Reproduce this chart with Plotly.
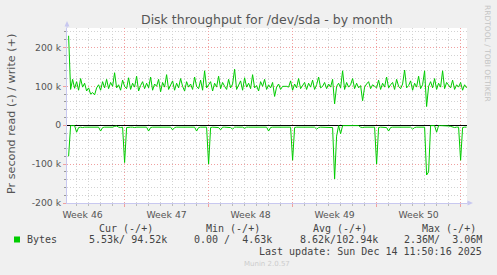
import pandas as pd
import plotly.graph_objects as go

# ---------------- data (kB/s) ----------------
start_time = "2025-11-12 08:00"
step = "4h"

write_k = [
    230, 92, 118, 95, 112, 90, 120, 98, 108, 88, 96, 80, 84, 78, 96, 104, 90, 112, 96, 118,
    94, 110, 100, 135, 96, 104, 90, 116, 100, 94, 122, 92, 108, 98, 126, 88, 102, 112, 94, 108,
    96, 124, 90, 106, 100, 118, 86, 110, 98, 130, 92, 104, 114, 90, 108, 96, 120, 100, 88, 112,
    98, 106, 92, 124, 100, 94, 116, 90, 140, 96, 104, 112, 88, 108, 98, 126, 94, 110, 100, 92,
    118, 96, 106, 144, 92, 102, 114, 90, 122, 98, 108, 94, 130, 96, 102, 88, 112, 100, 118, 92,
    104, 96, 110, 74, 98, 106, 92, 100, 100, 100, 98, 114, 90, 106, 96, 120, 94, 102, 110, 92,
    108, 98, 116, 92, 104, 124, 96, 100, 110, 94, 106, 98, 118, 55, 100, 108, 96, 140, 92, 110,
    98, 104, 120, 94, 108, 96, 102, 63, 98, 106, 112, 94, 104, 100, 96, 116, 92, 108, 98, 124,
    96, 104, 110, 92, 118, 100, 94, 106, 142, 96, 102, 114, 90, 108, 98, 126, 94, 104, 140, 48,
    100, 112, 96, 120, 92, 108, 98, 140, 94, 110, 102, 96, 116, 92, 104, 98, 110, 90, 104, 96,
]

read_k = [
    80, 1, 1, 1, 18, 6, 5, 6, 5, 5, 6, 5, 5, 6, 5, 5, 15, 6, 5, 5,
    6, 5, 5, 3, 2, 5, 6, 5, 96, 6, 5, 5, 5, 6, 5, 5, 5, 6, 5, 5,
    15, 6, 5, 5, 6, 5, 5, 5, 6, 5, 5, 5, 12, 6, 5, 5, 5, 6, 5, 5,
    5, 6, 5, 5, 15, 6, 5, 5, 6, 5, 100, 6, 5, 5, 5, 6, 12, 5, 5, 5,
    5, 6, 10, 5, 5, 5, 6, 5, 8, 5, 5, 5, 6, 5, 5, 5, 6, 5, 5, 5,
    15, 6, 5, 5, 5, 6, 5, 5, 5, 6, 5, 5, 90, 6, 5, 5, 5, 6, 5, 5,
    5, 6, 5, 5, 10, 6, 5, 5, 5, 6, 5, 5, 6, 138, 28, 1, 22, 1, 1, 1,
    1, 1, 1, 1, 1, 1, 5, 6, 5, 5, 5, 6, 5, 5, 100, 6, 5, 5, 5, 6,
    15, 6, 5, 5, 5, 6, 5, 5, 5, 6, 5, 5, 10, 6, 5, 5, 6, 5, 5, 128,
    120, 1, 1, 1, 18, 1, 1, 1, 1, 1, 2, 3, 5, 6, 5, 5, 90, 6, 5, 5,
]

y_tick_vals = [-200000, -100000, 0, 100000, 200000]
y_tick_text = ["-200 k", "-100 k", "0", "100 k", "200 k"]
x_range = ["2025-11-12 04:48", "2025-12-15 12:48"]
week_tick0 = "2025-11-17"

series_name = "Bytes"
legend_headers = ["Cur (-/+)", "Min (-/+)", "Avg (-/+)", "Max (-/+)"]
legend_values = ["5.53k/ 94.52k", "0.00 /  4.63k", "8.62k/102.94k", "2.36M/  3.06M"]
title_text = "Disk throughput for /dev/sda - by month"
y_title = "Pr second read (-) / write (+)"
last_update = "Last update: Sun Dec 14 11:50:16 2025"
footer = "Munin 2.0.57"
watermark = "RRDTOOL / TOBI OETIKER"

# ---------------- figure ----------------
W, H = 497, 275
L, R, T, B = 67, 30, 28, 72
PW, PH = W - L - R, H - T - B

def px(x):
    return (x - L) / PW

def py(y):
    return (H - B - y) / PH

times = pd.date_range(start=start_time, periods=len(write_k), freq=step)
green = "#00CC00"

fig = go.Figure()
fig.add_trace(go.Scatter(x=times, y=[v * 1000 for v in write_k], mode="lines",
                         line=dict(color=green, width=1), showlegend=False, hoverinfo="skip"))
fig.add_trace(go.Scatter(x=times, y=[-v * 1000 for v in read_k], mode="lines",
                         line=dict(color=green, width=1), showlegend=False, hoverinfo="skip"))

axis_font = dict(family="DejaVu Sans", size=9.3, color="#555555")
minor_grid = "#D2D2D2"
major_grid = "#F0A0A0"
axis_line = "#C8C8F0"

fig.update_xaxes(
    type="date", range=x_range, tick0=week_tick0, dtick=7 * 86400000,
    ticklabelmode="period", tickformat="Week %V",
    showgrid=True, gridcolor=major_grid, griddash="1px,2px", gridwidth=1,
    ticks="outside", ticklen=3, tickcolor=major_grid,
    minor=dict(dtick=86400000, tick0=week_tick0, showgrid=True, gridcolor=minor_grid,
               griddash="1px,2px", gridwidth=1, ticks="outside", ticklen=2, tickcolor="#BBBBBB"),
    showline=True, linecolor=axis_line, linewidth=1,
    tickfont=axis_font, zeroline=False, fixedrange=True,
)
fig.update_yaxes(
    range=[-200000, 250000], tickmode="array", tickvals=y_tick_vals, ticktext=y_tick_text,
    showgrid=True, gridcolor=major_grid, griddash="1px,2px", gridwidth=1,
    ticks="outside", ticklen=3, tickcolor=major_grid,
    minor=dict(tickmode="linear", tick0=0, dtick=20000, showgrid=True, gridcolor=minor_grid,
               griddash="1px,2px", gridwidth=1, ticks="outside", ticklen=2, tickcolor="#999999"),
    showline=True, linecolor=axis_line, linewidth=1,
    zeroline=True, zerolinecolor="#000000", zerolinewidth=1,
    tickfont=axis_font, fixedrange=True,
)

shapes = [
    # axis arrow heads
    dict(type="path", xref="paper", yref="paper",
         path=f"M {px(64.5)} {py(26.5)} L {px(67)} {py(21)} L {px(69.5)} {py(26.5)} Z",
         fillcolor=axis_line, line=dict(width=0)),
    dict(type="line", xref="paper", yref="paper", x0=0, x1=0, y0=1, y1=py(26),
         line=dict(color=axis_line, width=1)),
    dict(type="path", xref="paper", yref="paper",
         path=f"M {px(467.5)} {py(200.5)} L {px(473)} {py(203)} L {px(467.5)} {py(205.5)} Z",
         fillcolor=axis_line, line=dict(width=0)),
    dict(type="line", xref="paper", yref="paper", x0=1, x1=px(468), y0=0, y1=0,
         line=dict(color=axis_line, width=1)),
    # legend swatch
    dict(type="rect", xref="paper", yref="paper", x0=px(14), x1=px(20), y0=py(236.5), y1=py(242.5),
         fillcolor=green, line=dict(width=0)),
]

mono = "DejaVu Sans Mono"
ann = []
ann.append(dict(text=title_text, x=0.5, y=py(19), xref="paper", yref="paper",
                xanchor="center", yanchor="middle",
                font=dict(family="DejaVu Sans", size=12.5, color="#555555")))
ann.append(dict(text=y_title, x=px(11), y=py(114), xref="paper", yref="paper", textangle=-90,
                xanchor="center", yanchor="middle",
                font=dict(family="DejaVu Sans", size=11.2, color="#555555")))
ann.append(dict(text=watermark, x=px(488), y=py(53), xref="paper", yref="paper", textangle=90,
                xanchor="center", yanchor="middle",
                font=dict(family="DejaVu Sans", size=7.5, color="#C4C4C4")))
ann.append(dict(text=series_name, x=px(26), y=py(239.5), xref="paper", yref="paper",
                xanchor="left", yanchor="middle", font=dict(family=mono, size=10, color="#444444")))
header_right = [153.5, 260.5, 368, 477]
value_right = [167.5, 273, 378.5, 483]
for h, xr in zip(legend_headers, header_right):
    ann.append(dict(text=h, x=px(xr), y=py(228), xref="paper", yref="paper",
                    xanchor="right", yanchor="middle", font=dict(family=mono, size=10, color="#444444")))
for v, xr in zip(legend_values, value_right):
    ann.append(dict(text=v.replace(" ", "&nbsp;"), x=px(xr), y=py(239.5), xref="paper", yref="paper",
                    xanchor="right", yanchor="middle", font=dict(family=mono, size=10, color="#444444")))
ann.append(dict(text=last_update, x=px(483), y=py(251), xref="paper", yref="paper",
                xanchor="right", yanchor="middle", font=dict(family=mono, size=10, color="#444444")))
ann.append(dict(text=footer, x=0.5, y=py(264), xref="paper", yref="paper",
                xanchor="center", yanchor="middle",
                font=dict(family="DejaVu Sans", size=7, color="#CCCCCC")))
for a in ann:
    a["showarrow"] = False
    a["borderpad"] = 0

fig.update_layout(
    width=W, height=H, margin=dict(l=L, r=R, t=T, b=B, pad=0),
    paper_bgcolor="#F0F0F0", plot_bgcolor="#FFFFFF",
    showlegend=False, shapes=shapes, annotations=ann,
    font=dict(family="DejaVu Sans"),
)

fig.write_html("out.html", config={"displayModeBar": False, "staticPlot": True})
